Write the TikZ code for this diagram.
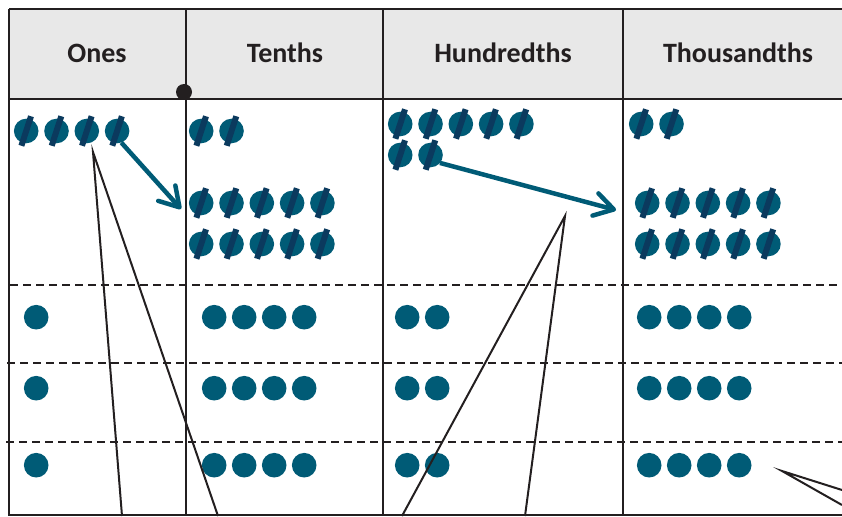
\documentclass[tikz,border=0pt]{standalone}
\usepackage{fontspec}
\setmainfont{Carlito}
\usetikzlibrary{matrix,positioning,arrows.meta}
\definecolor{coinblue}{HTML}{005B76}
\definecolor{slashblue}{HTML}{0B3A5E}
\definecolor{inkgray}{HTML}{231F20}
\definecolor{headgray}{HTML}{E8E8E8}
\newcommand\coinslash{\makebox[0pt]{\smash{\rotatebox[origin=c]{72}{\textcolor{slashblue}{\rule[-3pt]{31pt}{6pt}}}}}}
\tikzset{
dot/.style={circle,fill=coinblue,minimum size=24.6pt,inner sep=0pt,outer sep=0pt},
coinmat/.style={
  matrix of nodes,
  nodes={dot},
  inner sep=0pt,
  column sep=5.7pt,
  anchor=west
  },
dotmat/.style={
  matrix of nodes,
  nodes in empty cells,
  nodes={dot},
  inner sep=0pt,
  column sep=5.4pt,
  row sep=46.4pt,
  anchor=north west
  }
}
\tikzset{
  colhead/.style={anchor=base,text=inkgray,font=\fontsize{28}{30}\selectfont\bfseries},
  gridline/.style={draw=inkgray,line width=2.2pt},
  dashline/.style={draw=inkgray,line width=2pt,dash pattern=on 8pt off 5pt},
  leader/.style={draw=inkgray,line width=2pt},
  carry/.style={draw=coinblue,line width=4.5pt,->},
  joint/.style={circle,fill=inkgray,minimum size=16pt,inner sep=0pt}
}

\begin{document}
\begin{tikzpicture}[x=1pt,y=-1pt,>={Straight Barb[length=19pt,width=23pt,round]}]

\useasboundingbox (0,0) rectangle (842,516);

% table
\fill[headgray] (9,9) rectangle (842,99);
\draw[gridline] (9,9) -- (842,9) (9,99) -- (842,99) (9,515) -- (842,515);
\draw[gridline] (9,9) -- (9,516) (186,9) -- (186,516)
                (383,9) -- (383,516) (623,9) -- (623,516);
\draw[dashline] (10,285) -- (842,285);
\draw[dashline] (7,363) -- (842,363);
\draw[dashline] (6,442) -- (842,442);

\node[colhead] (onesHead) at (97,63) {Ones};
\node[colhead] (tenthsHead) at (285,63) {Tenths};
\node[colhead] (hundHead) at (503,63) {Hundredths};
\node[colhead] (thouHead) at (738,63) {Thousandths};

\node[joint] (point) at (184,92) {};

% regrouped counters
\matrix[coinmat] at (13.7,131) (onesTop)
{ \coinslash & \coinslash & \coinslash & \coinslash \\ };

\matrix[coinmat] at (188.7,131) (tenthsTop)
{ \coinslash & \coinslash \\ };

\matrix[coinmat] at (188.7,203) (tenthsMid)
{ \coinslash & \coinslash & \coinslash & \coinslash & \coinslash \\ };

\matrix[coinmat] at (188.7,244) (tenthsLow)
{ \coinslash & \coinslash & \coinslash & \coinslash & \coinslash \\ };

\matrix[coinmat] at (387.7,124) (hundTop)
{ \coinslash & \coinslash & \coinslash & \coinslash & \coinslash \\ };

\matrix[coinmat] at (387.7,155) (hundMid)
{ \coinslash & \coinslash \\ };

\matrix[coinmat] at (628.7,124) (thouTop)
{ \coinslash & \coinslash \\ };

\matrix[coinmat] at (634.7,203) (thouMid)
{ \coinslash & \coinslash & \coinslash & \coinslash & \coinslash \\ };

\matrix[coinmat] at (634.7,244) (thouLow)
{ \coinslash & \coinslash & \coinslash & \coinslash & \coinslash \\ };

% counters left in each column
\matrix[dotmat] at (23.7,304.7) (onesDots)
{ \\ \\[6pt] \\ };

\matrix[dotmat] at (201.7,304.7) (tenthsDots)
{ & & & \\ & & & \\[6pt] & & & \\ };

\matrix[dotmat] at (394.7,304.7) (hundDots)
{ & \\ & \\[6pt] & \\ };

\matrix[dotmat] at (636.7,304.7) (thouDots)
{ & & & \\ & & & \\[6pt] & & & \\ };

% exchange arrows
\coordinate (tipA) at (181,209);
\coordinate (tipB) at (616,210);
\draw[carry] (onesTop-1-4.-70) -- (tipA);
\draw[carry] (hundMid-1-2.-40) -- (tipB);

% leader lines
\coordinate (apexA) at (93,152);
\coordinate (footA1) at (122,516);
\coordinate (footA2) at (218,516);
\coordinate (apexB) at (565,216);
\coordinate (footB1) at (402,516);
\coordinate (footB2) at (525,516);
\coordinate (apexC) at (782,471);
\coordinate (footC1) at (842,490);
\coordinate (footC2) at (842,505);
\draw[leader] (footA1) -- (apexA) -- (footA2);
\draw[leader] (footB1) -- (apexB) -- (footB2);
\draw[leader] (footC1) -- (apexC) -- (footC2);

\end{tikzpicture}
\end{document}
